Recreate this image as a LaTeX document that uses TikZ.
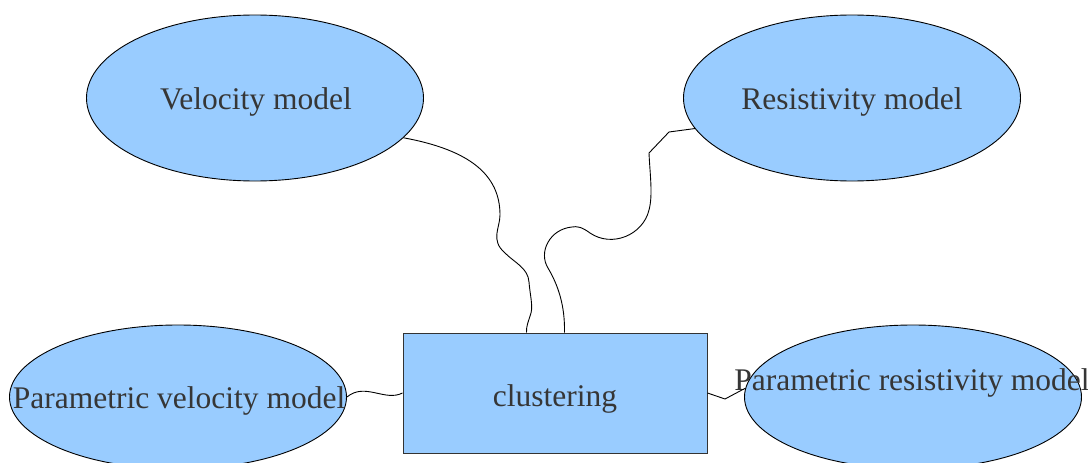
\documentclass[tikz,border=0pt]{standalone}
\usepackage{fontspec}
\setmainfont{Liberation Serif}
\usetikzlibrary{shapes.geometric}
\definecolor{fillblue}{HTML}{99CCFF}
\definecolor{txtgrey}{HTML}{363636}
\tikzset{
  oval/.style={ellipse, draw=black, fill=fillblue, line width=0.9pt, inner sep=0pt, minimum width=337pt, minimum height=166pt},
  lowoval/.style={oval, minimum height=144pt},
  boxnode/.style={rectangle, draw=black!80, fill=fillblue, line width=1pt, minimum width=304pt, minimum height=120pt, inner sep=0pt},
  lbl/.style={text=txtgrey, font=\fontsize{31.5}{36}\selectfont, inner sep=0pt},
  wire/.style={draw=black, line width=0.9pt}
}
\begin{document}
\begin{tikzpicture}[x=1pt,y=-1pt]
\useasboundingbox[fill=white] (0,0) rectangle (1088,463);
\node[oval] (vel) at (255,98) {};
\node[lbl] (veltxt) at (256,102) {Velocity model};
\node[oval] (res) at (852,98) {};
\node[lbl] (restxt) at (852,102) {Resistivity model};
\node[lowoval] (pv) at (178,397) {};
\node[lbl] (pvtxt) at (179,401) {Parametric velocity model};
\node[lowoval] (pr) at (913,397) {};
\node[lbl] (prtxt) at (912,383) {Parametric resistivity model};
\node[boxnode] (clu) at (555,393) {};
\node[lbl] (clutxt) at (555,399) {clustering};
% connectors
\draw[wire] (vel.-15) .. controls (470,150) and (500,175) .. (500,215)
  .. controls (500,228) and (490,240) .. (505,253)
  .. controls (515,263) and (528,268) .. (529,282)
  .. controls (530,295) and (533,305) .. (531,313)
  .. controls (529,320) and (526,326) .. ([xshift=124pt]clu.north west);
\draw[wire] (res.191) -- (669,132) -- (649,153)
  .. controls (650,175) and (653,195) .. (649,210)
  .. controls (643,235) and (612,248) .. (590,233)
  .. controls (582,227) and (577,226) .. (572,227)
  .. controls (550,229) and (538,252) .. (548,268)
  .. controls (558,285) and (565,305) .. ([xshift=162pt]clu.north west);
\draw[wire] (pv.east) .. controls (365,382) and (385,402) .. (clu.west);
\draw[wire] (clu.east) -- (725,399) -- (pr.177);
\end{tikzpicture}
\end{document}
